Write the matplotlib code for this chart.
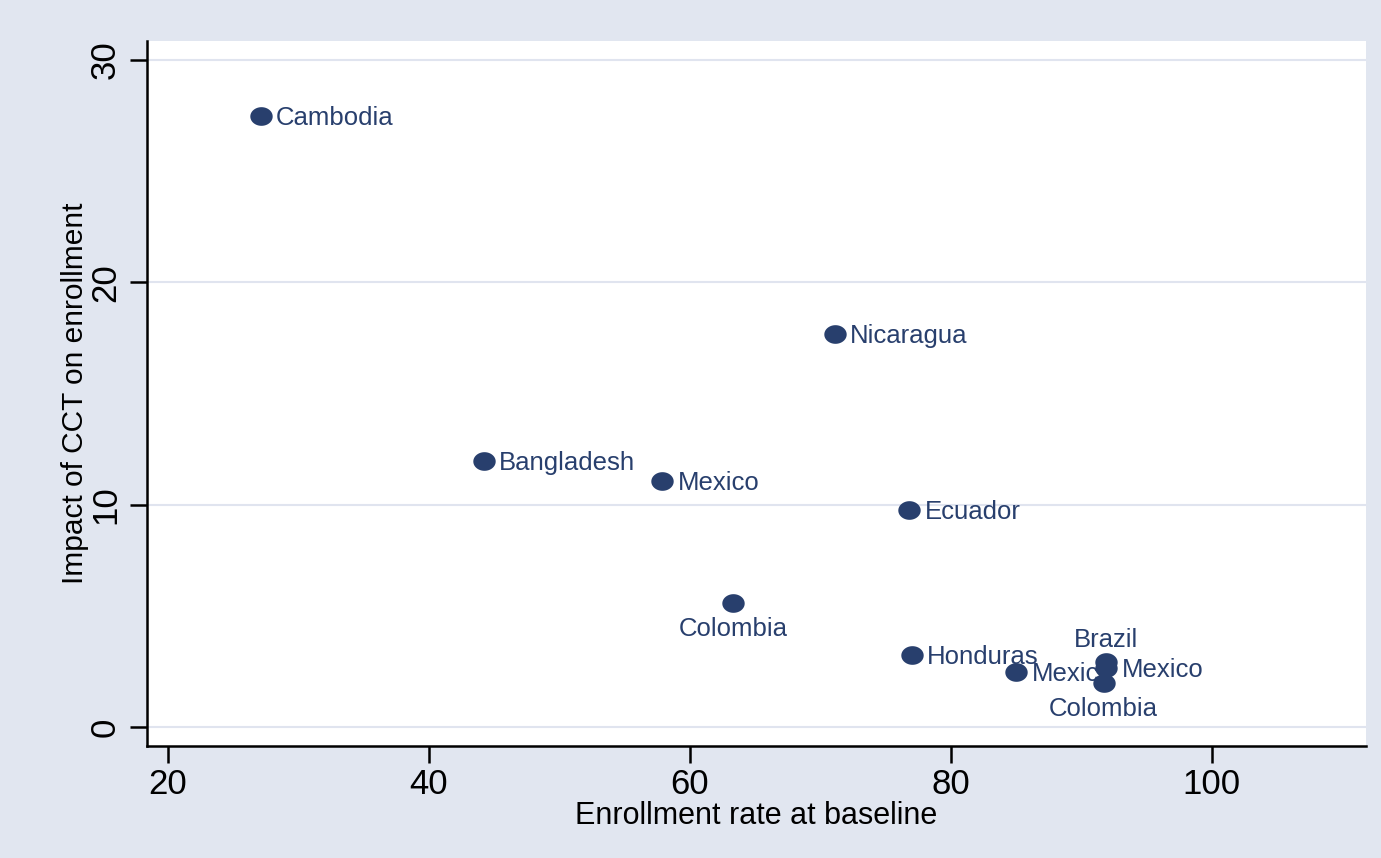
import numpy as np
import matplotlib
matplotlib.use("Agg")
import matplotlib.pyplot as plt
from matplotlib.path import Path

countries = ["Cambodia", "Bangladesh", "Mexico", "Nicaragua", "Ecuador", "Colombia",
             "Honduras", "Mexico", "Brazil", "Mexico", "Colombia"]
baseline = [27.1, 44.2, 57.9, 71.1, 76.8, 63.3, 77.0, 85.0, 91.9, 91.9, 91.7]
impact = [27.5, 11.97, 11.07, 17.68, 9.76, 5.58, 3.24, 2.47, 2.92, 2.65, 1.98]
label_pos = ["right", "right", "right", "right", "right", "below",
             "right", "right", "above", "right", "below"]

xticks = [20, 40, 60, 80, 100]
yticks = [0, 10, 20, 30]

navy = "#283f6d"
bg = "#e1e6f0"
plt.rcParams['font.family'] = ['Liberation Sans', 'DejaVu Sans']

fig = plt.figure(figsize=(13.81, 8.58), dpi=100, facecolor=bg)
ax = fig.add_axes([0.1064, 0.1305, 0.8826, 0.8217])
ax.set_facecolor("white")

t = np.linspace(0, 2 * np.pi, 60)
ell = Path(np.column_stack([1.2 * np.cos(t), np.sin(t)]), closed=True)
ax.scatter(baseline, impact, s=260, marker=ell, color=navy, zorder=3, linewidths=0)

for name, x, y, pos in zip(countries, baseline, impact, label_pos):
    if pos == "right":
        off, ha, va = (11, -1.5), "left", "center"
    elif pos == "above":
        off, ha, va = (0, 16), "center", "center"
    else:
        off, ha, va = (0, -18.5), "center", "center"
    ax.annotate(name, (x, y), xytext=off, textcoords="offset points",
                ha=ha, va=va, fontsize=18.5, color=navy, zorder=4)

ax.set_xlim(18.39, 111.8)
ax.set_ylim(-0.855, 30.85)
ax.set_xticks(xticks)
ax.set_yticks(yticks)
ax.grid(axis="y", color="#e0e4ef", linewidth=1.5)
ax.set_axisbelow(True)
for s in ["top", "right"]:
    ax.spines[s].set_visible(False)
for s in ["left", "bottom"]:
    ax.spines[s].set_linewidth(1.8)
    ax.spines[s].set_color("black")
ax.tick_params(axis="both", direction="out", length=12, width=1.8, labelsize=25, pad=4)
ax.tick_params(axis="y", labelrotation=90, pad=6)
for lab in ax.get_yticklabels():
    lab.set_va("center")
ax.set_xlabel("Enrollment rate at baseline", fontsize=22, labelpad=0)
ax.set_ylabel("Impact of CCT on enrollment", fontsize=21.5, labelpad=0)

fig.savefig("out.png", dpi=100, facecolor=bg)
